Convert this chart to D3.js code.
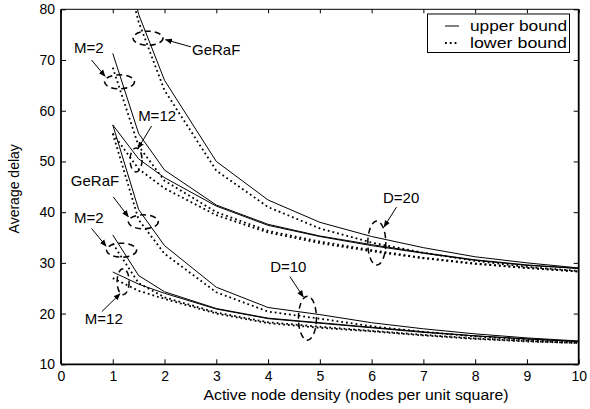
<!DOCTYPE html>
<html>
<head>
<meta charset="utf-8">
<script src="https://cdn.jsdelivr.net/npm/d3@7"></script>
<style>
  body { margin: 0; background: #fff; }
  text { font-family: "Liberation Sans", Arial, sans-serif; fill: #000; }
</style>
</head>
<body>
<div id="chart"></div>
<script>
// x positions shared by every curve
let xs = [1, 1.5, 2, 3, 4, 5, 6, 7, 8, 9, 10];

// D=20
let d20GerafUpper = [100, 79, 66, 50, 42.4, 38, 35.2, 33, 31.2, 30, 29];
let d20GerafLower = [97, 77.5, 64, 48.2, 41, 36.8, 34, 32, 30.4, 29.2, 28.4];
let d20M2Upper   = [71.3, 55.5, 48.3, 41.4, 37.6, 35.3, 33.6, 32, 30.6, 29.6, 28.9];
let d20M2Lower   = [68.5, 53, 46.2, 40, 36.3, 34.2, 32.5, 31, 29.9, 29, 28.3];
let d20M12Upper  = [57.2, 50.5, 46.8, 41.2, 37.4, 35.2, 33.4, 31.9, 30.5, 29.5, 28.9];
let d20M12Lower  = [55.5, 48.5, 44.7, 39.4, 36, 33.9, 32.3, 30.9, 29.8, 29, 28.3];

// D=10
let d10GerafUpper = [57.2, 40.5, 33.4, 25.2, 21.2, 19.8, 18.2, 17, 16, 15.2, 14.6];
let d10GerafLower = [55.5, 38.5, 31.8, 24.2, 20.4, 19, 17.5, 16.4, 15.5, 14.8, 14.3];
let d10M2Upper    = [35.5, 27.5, 24.3, 21, 19.1, 18.2, 17.3, 16.4, 15.6, 15, 14.5];
let d10M2Lower    = [33.8, 26, 23.2, 20.2, 18.3, 17.4, 16.6, 15.8, 15.1, 14.6, 14.2];
let d10M12Upper   = [28.2, 25.8, 24, 20.9, 19, 18.1, 17.2, 16.3, 15.6, 15, 14.5];
let d10M12Lower   = [27, 24.5, 22.9, 20, 18.1, 17.2, 16.5, 15.7, 15, 14.5, 14.2];

let upperSeries = [d20GerafUpper, d20M2Upper, d20M12Upper, d10GerafUpper, d10M2Upper, d10M12Upper];
let lowerSeries = [d20GerafLower, d20M2Lower, d20M12Lower, d10GerafLower, d10M2Lower, d10M12Lower];

let xTicks = [0, 1, 2, 3, 4, 5, 6, 7, 8, 9, 10];
let yTicks = [10, 20, 30, 40, 50, 60, 70, 80];
let legendLabels = ["upper bound", "lower bound"];

// annotations: label, label pos, arrow from -> to, ellipse centre (data units)
let annoLabels = ["GeRaF", "M=2", "M=12", "GeRaF", "M=2", "M=12", "D=20", "D=10"];
let annoText   = [[2.53, 71.0], [0.25, 71.4], [1.49, 57.9], [0.19, 45.1], [0.25, 37.9], [0.46, 17.9], [6.22, 41.8], [4.04, 28.2]];
let annoFrom   = [[2.51, 72.6], [0.59, 70.0], [1.75, 57.0], [1.01, 43.0], [0.59, 36.8], [0.79, 20.4], [6.48, 41.0], [4.42, 27.3]];
let annoTo     = [[2.02, 74.0], [0.85, 66.8], [1.49, 52.6], [1.30, 39.1], [0.87, 33.3], [1.14, 23.9], [6.24, 37.1], [4.68, 23.3]];
let annoCentre = [[1.68, 74.3], [1.13, 65.7], [1.45, 50.3], [1.59, 38.1], [1.17, 32.5], [1.20, 26.3], [6.10, 33.9], [4.76, 19.1]];
let annoRadii  = [[15, 7], [15, 7], [6, 12], [15, 7], [15, 7], [6, 13], [9, 22], [9, 22]];

let W = 590, H = 409;
let plotL = 61, plotR = 578.7, plotT = 9.3, plotB = 364.3;

let svg = d3.select("#chart").append("svg")
    .attr("width", W)
    .attr("height", H);

let x = d3.scaleLinear().domain([0, 10]).range([plotL, plotR]);
let y = d3.scaleLinear().domain([10, 80]).range([plotB, plotT]);

let defs = svg.append("defs");
defs.append("clipPath").attr("id", "plotclip")
  .append("rect")
    .attr("x", plotL).attr("y", plotT)
    .attr("width", plotR - plotL).attr("height", plotB - plotT);

let marker = defs.append("marker")
    .attr("id", "arrow")
    .attr("viewBox", "0 0 10 10")
    .attr("refX", 9).attr("refY", 5)
    .attr("markerWidth", 7).attr("markerHeight", 7)
    .attr("markerUnits", "userSpaceOnUse")
    .attr("orient", "auto");
marker.append("path").attr("d", "M0,1L10,5L0,9z").attr("fill", "#000");

// axes, MATLAB style: ticks inward on all four sides
let xAxis = d3.axisBottom(x).tickValues(xTicks).tickSize(-5).tickPadding(7).tickFormat(d3.format("d"));
let yAxis = d3.axisLeft(y).tickValues(yTicks).tickSize(-5).tickPadding(6).tickFormat(d3.format("d"));

let gx = svg.append("g").attr("transform", "translate(0," + plotB + ")").call(xAxis);
let gy = svg.append("g").attr("transform", "translate(" + plotL + ",0)").call(yAxis);
svg.append("g").attr("transform", "translate(0," + plotT + ")")
    .call(d3.axisTop(x).tickValues(xTicks).tickSize(-4).tickFormat(""));
svg.append("g").attr("transform", "translate(" + plotR + ",0)")
    .call(d3.axisRight(y).tickValues(yTicks).tickSize(-5).tickFormat(""));

svg.selectAll(".domain").remove();
svg.selectAll(".tick line").attr("stroke", "#000").attr("stroke-width", 1);
gx.selectAll("text").attr("font-size", 14).attr("font-family", "Liberation Sans, Arial, sans-serif").attr("fill", "#000");
gy.selectAll("text").attr("font-size", 14).attr("font-family", "Liberation Sans, Arial, sans-serif").attr("fill", "#000");

// frame
svg.append("line").attr("x1", plotL).attr("x2", plotR).attr("y1", plotT).attr("y2", plotT)
    .attr("stroke", "#000").attr("stroke-width", 1);
svg.append("line").attr("x1", plotL).attr("x2", plotL).attr("y1", plotT).attr("y2", plotB)
    .attr("stroke", "#000").attr("stroke-width", 1.8);
svg.append("line").attr("x1", plotL).attr("x2", plotR).attr("y1", plotB).attr("y2", plotB)
    .attr("stroke", "#000").attr("stroke-width", 1.8);
svg.append("line").attr("x1", plotR).attr("x2", plotR).attr("y1", plotT).attr("y2", plotB)
    .attr("stroke", "#000").attr("stroke-width", 1.8);

let line = d3.line()
    .x(function(d, i) { return x(xs[i]); })
    .y(function(d) { return y(d); });

let curves = svg.append("g").attr("clip-path", "url(#plotclip)");
curves.selectAll("path.upper")
    .data(upperSeries)
  .enter().append("path")
    .attr("class", "upper")
    .attr("d", line)
    .attr("fill", "none")
    .attr("stroke", "#000")
    .attr("stroke-width", 1);
curves.selectAll("path.lower")
    .data(lowerSeries)
  .enter().append("path")
    .attr("class", "lower")
    .attr("d", line)
    .attr("fill", "none")
    .attr("stroke", "#000")
    .attr("stroke-width", 1.8)
    .attr("stroke-dasharray", "1.8,3");

// annotations
let anno = svg.append("g");
annoLabels.forEach(function(lbl, i) {
    anno.append("ellipse")
        .attr("cx", x(annoCentre[i][0])).attr("cy", y(annoCentre[i][1]))
        .attr("rx", annoRadii[i][0]).attr("ry", annoRadii[i][1])
        .attr("fill", "none").attr("stroke", "#000")
        .attr("stroke-width", 1.5).attr("stroke-dasharray", "6,4");
    anno.append("line")
        .attr("x1", x(annoFrom[i][0])).attr("y1", y(annoFrom[i][1]))
        .attr("x2", x(annoTo[i][0])).attr("y2", y(annoTo[i][1]))
        .attr("stroke", "#000").attr("stroke-width", 1)
        .attr("marker-end", "url(#arrow)");
    anno.append("text")
        .attr("x", x(annoText[i][0])).attr("y", y(annoText[i][1]))
        .attr("font-size", 15)
        .text(lbl);
});

// legend
let legend = svg.append("g");
legend.append("rect")
    .attr("x", 427.5).attr("y", 14).attr("width", 142).attr("height", 38.5)
    .attr("fill", "#fff").attr("stroke", "#000").attr("stroke-width", 1);
legendLabels.forEach(function(lbl, i) {
    let ly = 26 + i * 17;
    legend.append("line")
        .attr("x1", 445).attr("x2", 459).attr("y1", ly).attr("y2", ly)
        .attr("stroke", "#000")
        .attr("stroke-width", i ? 1.8 : 1)
        .attr("stroke-dasharray", i ? "1.8,3" : null);
    legend.append("text")
        .attr("x", 470).attr("y", ly + 5)
        .attr("font-size", 15)
        .attr("textLength", 97).attr("lengthAdjust", "spacingAndGlyphs")
        .text(lbl);
});

// axis titles
svg.append("text")
    .attr("x", 203.5).attr("y", 399.5)
    .attr("font-size", 14)
    .attr("textLength", 305).attr("lengthAdjust", "spacingAndGlyphs")
    .text("Active node density (nodes per unit square)");
svg.append("text")
    .attr("transform", "translate(19," + ((plotT + plotB) / 2 + 2) + ") rotate(-90)")
    .attr("text-anchor", "middle")
    .attr("font-size", 14)
    .text("Average delay");
</script>
</body>
</html>
